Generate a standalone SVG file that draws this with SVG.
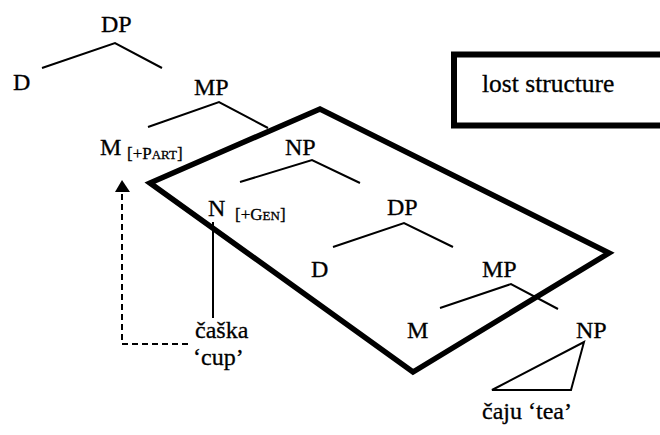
<svg xmlns="http://www.w3.org/2000/svg" width="660" height="435" viewBox="0 0 660 435">
<defs>
<style>
text{font-family:"Liberation Serif","Times New Roman",serif;fill:#000;stroke:#000;stroke-width:0.3}
.lbl{font-size:24px}
.sub{font-size:17px}
.sc{font-size:13px}
.br{fill:none;stroke:#000;stroke-width:2}
.thick{fill:none;stroke:#000;stroke-width:5.5;stroke-linejoin:miter}
.dash{fill:none;stroke:#000;stroke-width:2;stroke-dasharray:6 4}
</style>
</defs>
<rect width="660" height="435" fill="#fff"/>
<g id="lost-structure-legend">
<rect x="454" y="54.5" width="220" height="71" fill="none" stroke="#000" stroke-width="6"/>
<text class="lbl" x="482" y="92" style="font-size:25.5px">lost structure</text>
</g>
<g id="lost-region">
<polygon class="thick" points="150,183 320,109 609,253 413,372"/>
</g>
<g id="connectors">
<polyline class="br" points="42,68 115,43 162,68"/>
<polyline class="br" points="148,127 219,102 268,128"/>
<polyline class="br" points="240,182 312,160 360,183"/>
<polyline class="br" points="333,247 404,223 453,247"/>
<polyline class="br" points="440,308 511,284 558,309"/>
<line class="br" x1="213" y1="222" x2="213" y2="318"/>
<polygon class="br" points="492,390 584,342 571,390"/>
<path class="dash" d="M188,344 H122 V194"/>
<polygon points="115,192 122,180 130,192" fill="#000"/>
</g>
<g id="DP1"><text class="lbl" x="101" y="32">DP</text></g>
<g id="D1"><text class="lbl" x="13" y="90">D</text></g>
<g id="MP1"><text class="lbl" x="194" y="95">MP</text></g>
<g id="M1"><text class="lbl" x="100" y="155">M</text><text class="sub" x="127" y="159">[+P<tspan class="sc">ART</tspan>]</text></g>
<g id="NP1"><text class="lbl" x="285" y="155">NP</text></g>
<g id="N1"><text class="lbl" x="208" y="216">N</text><text class="sub" x="235" y="220">[+G<tspan class="sc">EN</tspan>]</text></g>
<g id="DP2"><text class="lbl" x="387" y="215">DP</text></g>
<g id="D2"><text class="lbl" x="311" y="277">D</text></g>
<g id="MP2"><text class="lbl" x="482" y="277">MP</text></g>
<g id="M2"><text class="lbl" x="407" y="338">M</text></g>
<g id="NP2"><text class="lbl" x="576" y="338">NP</text></g>
<g id="caska"><text class="lbl" x="195" y="338">čaška</text><text class="lbl" x="193" y="365">‘cup’</text></g>
<g id="caju"><text class="lbl" x="482" y="419">čaju ‘tea’</text></g>
</svg>
